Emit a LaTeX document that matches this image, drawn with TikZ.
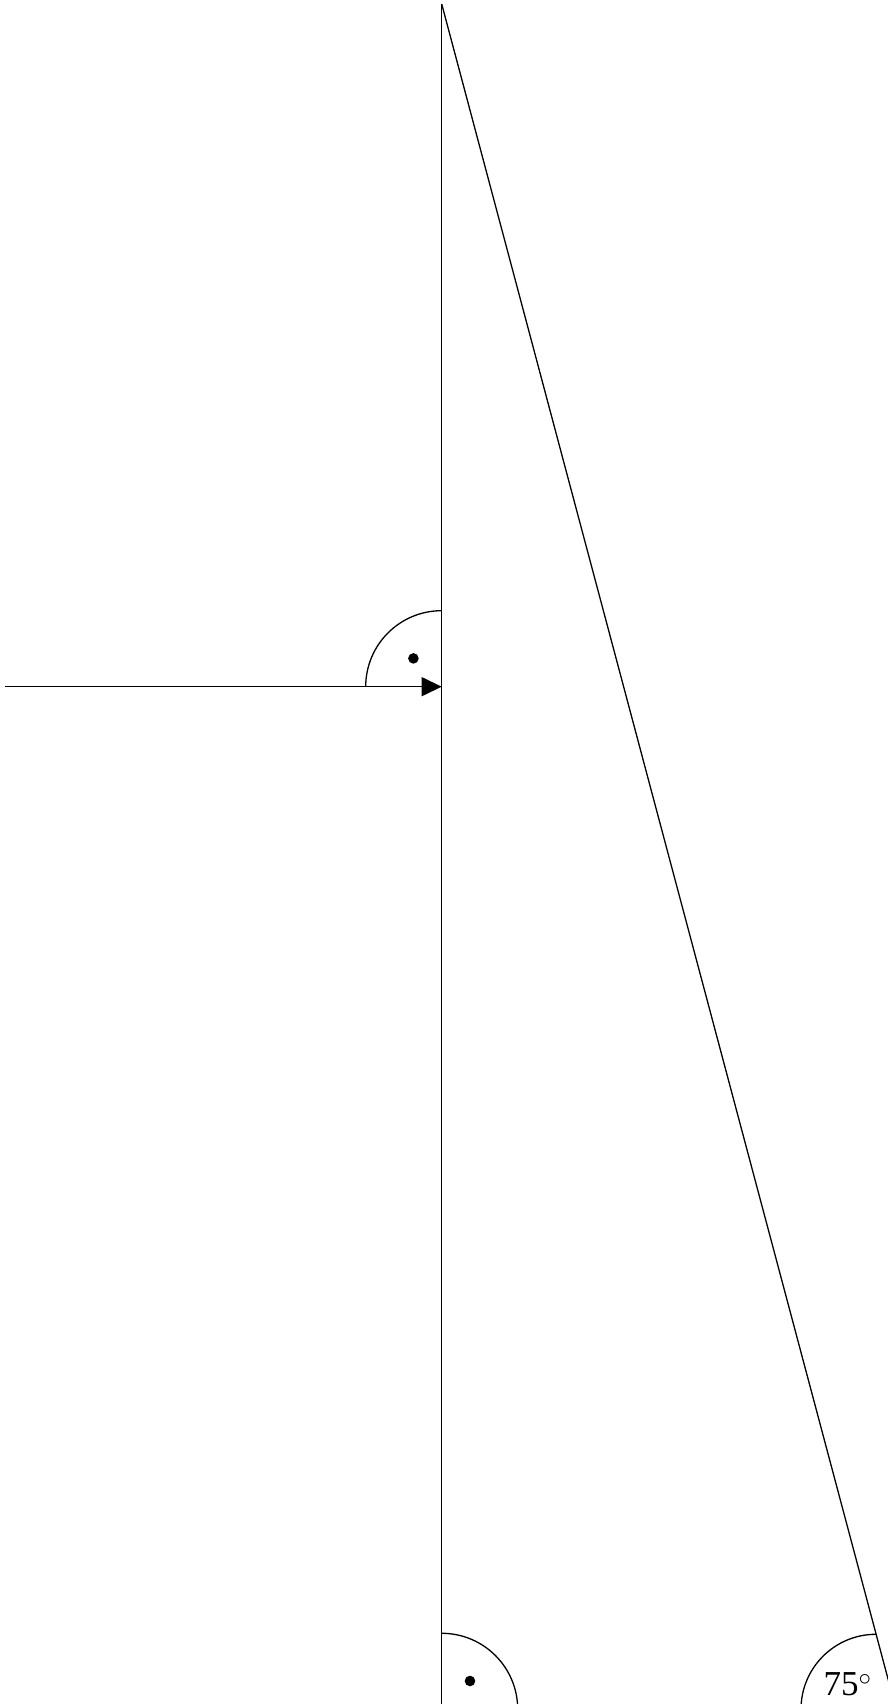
\documentclass[tikz,border=0pt]{standalone}
\usepackage{fontspec}
\setmainfont{Liberation Serif}
\usetikzlibrary{arrows.meta}
\begin{document}
\begin{tikzpicture}[x=1pt,y=1pt,
  edge/.style={draw=black,line width=1.3pt},
  anglemark/.style={draw=black,line width=1.3pt},
  dotmark/.style={fill=black},
  anglelabel/.style={inner sep=0pt,anchor=base,font=\fontsize{35}{40}\selectfont}]
\useasboundingbox (0,0) rectangle (888,1704);
\clip (0,0) rectangle (888,1704);
\coordinate (A) at (441.7,1700);
\coordinate (B) at (441.7,-5.3);
\coordinate (C) at (896.1,-5.3);
\coordinate (F) at (441.7,1017.3);
\coordinate (S) at (5.4,1017.3);
\coordinate (M) at (876,-5.3);
\draw[edge] (A) -- (B);
\draw[edge] (A) -- (C);
\draw[edge,-{Triangle[length=20pt,width=19pt]}] (S) -- (F);
\draw[anglemark] ([shift={(180:76)}]F) arc[start angle=180,end angle=90,radius=76];
\fill[dotmark] ([shift={(135:40)}]F) circle[radius=5.3];
\draw[anglemark] ([shift={(0:76)}]B) arc[start angle=0,end angle=90,radius=76];
\fill[dotmark] ([shift={(45:40)}]B) circle[radius=5.3];
\draw[anglemark] ([shift={(180:75)}]M) arc[start angle=180,end angle=90,radius=75];
\node[anglelabel] (L) at (847.5,9) {75$^\circ$};
\end{tikzpicture}
\end{document}
